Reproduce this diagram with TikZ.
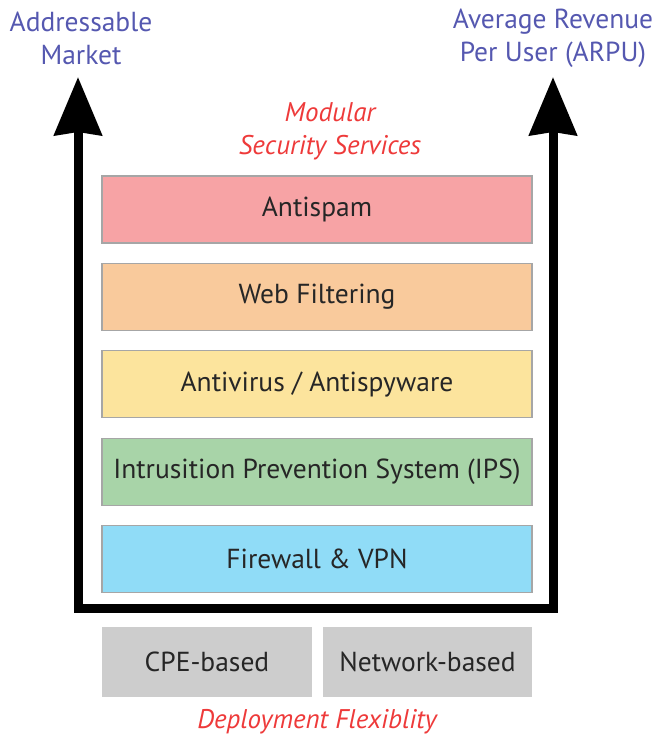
\documentclass[tikz,border=0pt]{standalone}
\usepackage{fontspec}
\setmainfont{PT Sans}
\usepackage{tikz}
\usetikzlibrary{arrows.meta,positioning}
\definecolor{spampink}{HTML}{F7A3A5}
\definecolor{webtan}{HTML}{F9CA9C}
\definecolor{avyellow}{HTML}{FCE49D}
\definecolor{ipsgreen}{HTML}{A8D4A8}
\definecolor{fwblue}{HTML}{90DCF7}
\definecolor{basegray}{HTML}{CDCDCD}
\definecolor{labelblue}{HTML}{5558B0}
\definecolor{labelred}{HTML}{EE3A3A}
\tikzset{
  layer/.style={draw=gray!70,line width=1.2pt,minimum width=430pt,minimum height=67pt,inner sep=0pt,font=\fontsize{27.5}{30}\selectfont,text=black!85},
  basebox/.style={fill=basegray,minimum width=210pt,minimum height=70pt,inner sep=0pt,font=\fontsize{27.5}{30}\selectfont,text=black!85},
  axislabel/.style={align=center,text=labelblue,font=\fontsize{27.5}{33}\selectfont},
  caption/.style={align=center,text=labelred,font=\fontsize{27}{33}\selectfont\itshape},
  growth/.style={line width=9pt,{Stealth[length=58pt,width=47pt,inset=3pt]}-{Stealth[length=58pt,width=47pt,inset=3pt]}}
}
\begin{document}
\begin{tikzpicture}[x=1pt,y=1pt]
  \useasboundingbox (0,0) rectangle (655,738);
  \foreach \k/\col/\lab in {0/spampink/Antispam,1/webtan/Web Filtering,2/avyellow/{Antivirus / Antispyware},3/ipsgreen/Intrusition Prevention System (IPS),4/fwblue/Firewall \& VPN}{
    \node[layer,fill=\col] (layer\k) at (317,{528.5-87.4*\k}) {\lab};
  }
  \node[basebox] (cpe) at (207,76) {CPE-based};
  \node[basebox,minimum width=209pt] (net) at (427.5,76) {Network-based};
  \coordinate (ltip) at (78,661);
  \coordinate (lcorner) at (78,129);
  \coordinate (rcorner) at (553,129);
  \coordinate (rtip) at (553,661);
  \draw[growth] (ltip) -- (lcorner) -- (rcorner) -- (rtip);
  \node[axislabel] (market) at (81,700) {Addressable\\Market};
  \node[axislabel] (arpu) at (553,700) {Average Revenue\\Per User (ARPU)};
  \node[caption] (modular) at (330,607) {Modular\\Security Services};
  \node[caption] (deploy) at (317,16) {Deployment Flexiblity};
\end{tikzpicture}
\end{document}
